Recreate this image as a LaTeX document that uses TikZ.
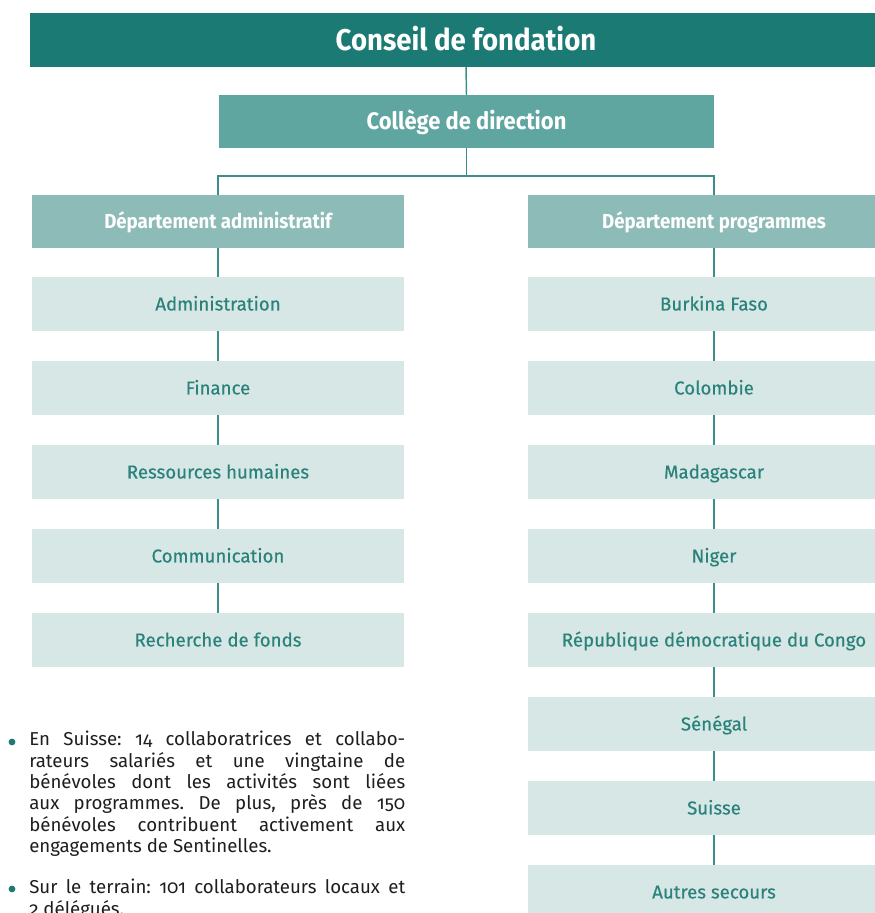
\documentclass[tikz,border=0pt]{standalone}
\usepackage{fontspec}
\setmainfont{Fira Sans}[Numbers=OldStyle]
\newfontfamily\headfont{Fira Sans}[FakeStretch=0.92]
\newfontfamily\unitfont{Fira Sans}[FakeBold=0.4]
\usetikzlibrary{positioning}

\definecolor{tealdark}{HTML}{1B7B74}
\definecolor{tealmid}{HTML}{5FA5A0}
\definecolor{teallight}{HTML}{8DBCB8}
\definecolor{tealpale}{HTML}{D7E7E6}
\definecolor{tealtext}{HTML}{2A827B}
\definecolor{tealline}{HTML}{3C8F89}
\definecolor{bodytext}{HTML}{1E1E1E}

\tikzset{
  box/.style={inner sep=0pt, outer sep=0pt, minimum height=40pt, text depth=0pt},
  conseil/.style={box, fill=tealdark, text=white, minimum width=654pt,
    text height=15.5pt, font=\headfont\bfseries\fontsize{22.5}{26}\selectfont},
  college/.style={box, fill=tealmid, text=white, minimum width=371pt,
    text height=12.4pt, font=\headfont\bfseries\fontsize{17.9}{21}\selectfont},
  dept/.style={box, fill=teallight, text=white, minimum width=279pt,
    text height=10.5pt, font=\headfont\bfseries\fontsize{15.2}{18}\selectfont},
  unit/.style={box, fill=tealpale, text=tealtext, minimum width=279pt,
    text height=9.7pt, font=\unitfont\fontsize{14}{17}\selectfont},
  link/.style={draw=tealline, line width=1.1pt}
}

\begin{document}
\begin{tikzpicture}[x=0.75pt, y=-0.75pt]
	\useasboundingbox (0,0) rectangle (874,913);

	\node [conseil] (conseil) at (466,40) {Conseil de fondation};
	\node [college] (college) at (466.5,121.5) {Collège de direction};
	\node [dept] (dadm) at (218,221.5) {Département administratif};
	\node [dept] (dprog) at (714,221.5) {Département programmes};
	\coordinate (split) at (466.5,176);

	% departement administratif
	\node [unit] (adm) at (218,304) {Administration};
	\node [unit] (fin) at (218,388) {Finance};
	\node [unit] (rh) at (218,472) {Ressources humaines};
	\node [unit] (com) at (218,556) {Communication};
	\node [unit] (fonds) at (218,640) {Recherche de fonds};

	% departement programmes
	\node [unit] (bf) at (714,304) {Burkina Faso};
	\node [unit] (col) at (714,388) {Colombie};
	\node [unit] (mad) at (714,472) {Madagascar};
	\node [unit] (nig) at (714,556) {Niger};
	\node [unit] (rdc) at (714,640) {République démocratique du Congo};
	\node [unit] (sen) at (714,724) {Sénégal};
	\node [unit] (sui) at (714,808) {Suisse};
	\node [unit] (autres) at (714,892) {Autres secours};

	\draw [link] (conseil.south) -- (college.north);
	\draw [link] (college.south) -- (split);
	\draw [link] (split) -| (dadm.north);
	\draw [link] (split) -| (dprog.north);
	\draw [link] (dadm) -- (adm) -- (fin) -- (rh) -- (com) -- (fonds);
	\draw [link] (dprog) -- (bf) -- (col) -- (mad) -- (nig) -- (rdc) -- (sen) -- (sui) -- (autres);

	% effectifs
	\fill [tealdark] (12,742) circle [radius=3.4];
	\fill [tealdark] (12,889) circle [radius=3.4];
	\node [anchor=north west, inner sep=0pt, text width=282pt, align=justify,
	  text=bodytext, font=\fontsize{14}{16}\selectfont\frenchspacing] (effectifs) at (29,731)
	  {En Suisse: 14 collaboratrices et collabo-\linebreak
	   rateurs salariés et une vingtaine de\linebreak
	   bénévoles dont les activités sont liées\linebreak
	   aux programmes. De plus, près de 150\linebreak
	   bénévoles contribuent activement aux\linebreak
	   engagements de Sentinelles.\par\vspace{15pt}
	   Sur le terrain: 101 collaborateurs locaux et\linebreak
	   2 délégués.};
\end{tikzpicture}
\end{document}
